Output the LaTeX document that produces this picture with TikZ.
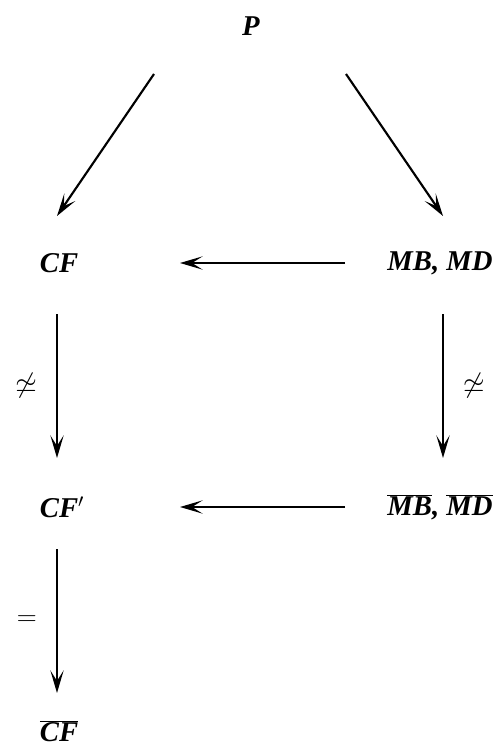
\documentclass[tikz,border=0pt]{standalone}
\usepackage{fontspec}
\setmainfont{Liberation Serif}
\usetikzlibrary{arrows.meta,calc}
\tikzset{
  objnode/.style={font=\fontsize{21.5}{24}\selectfont\bfseries\itshape, inner sep=2pt},
  mapln/.style={-{Stealth[length=17pt,width=10pt,inset=8pt]}, line width=1.6pt},
  maplbl/.style={font=\fontsize{20}{24}\selectfont, midway, left=11pt},
  maplblr/.style={font=\fontsize{20}{24}\selectfont, midway, right=11pt},
}
\newcommand{\barobj}[1]{$\overline{\mbox{#1}}$}

\begin{document}
\begin{tikzpicture}[x=0.75pt, y=-0.75pt]
    \useasboundingbox (0,0) rectangle (498,748);
    % objects
    \node[objnode] (P)    at (251,26)  {P};
    \node[objnode] (CF)   at (59,263)  {CF};
    \node[objnode] (MBD)  at (440,263) {MB,\ MD};
    \node[objnode] (CFp)  at (62,507)  {CF$'$};
    \node[objnode] (MBDb) at (440,507) {\barobj{MB},\ \barobj{MD}};
    \node[objnode] (CFb)  at (59,731)  {\barobj{CF}};
    % maps from P
    \draw[mapln] ([shift={(-97,48)}]P.center) -- ([shift={(-2,-47)}]CF.center);
    \draw[mapln] ([shift={(95,48)}]P.center) -- ([shift={(3,-47)}]MBD.center);
    % horizontal maps
    \draw[mapln] ([xshift=-95*0.75pt]MBD.center) -- ([xshift=121*0.75pt]CF.center);
    \draw[mapln] ([xshift=-95*0.75pt]MBDb.center) -- ([xshift=118*0.75pt]CFp.center);
    % vertical maps
    \draw[mapln] ([shift={(-2,51)}]CF.center) -- ([shift={(-5,-49)}]CFp.center)
      node[maplbl] {$\not\simeq$};
    \draw[mapln] ([shift={(3,51)}]MBD.center) -- ([shift={(3,-49)}]MBDb.center)
      node[maplblr] {$\not\simeq$};
    \draw[mapln] ([shift={(-5,42)}]CFp.center) -- ([shift={(-2,-38)}]CFb.center)
      node[maplbl] {$=$};
\end{tikzpicture}
\end{document}
